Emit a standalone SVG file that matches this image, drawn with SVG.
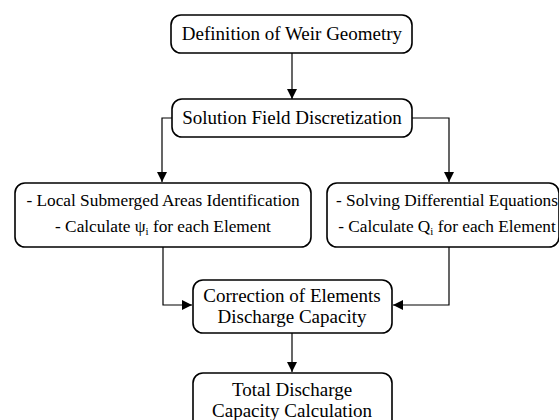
<svg xmlns="http://www.w3.org/2000/svg" width="559" height="420" viewBox="0 0 559 420">
<defs>
<marker id="ah" viewBox="0 0 10 10" refX="10" refY="5" markerWidth="10" markerHeight="10" markerUnits="userSpaceOnUse" orient="auto">
<path d="M0,0 L10,5 L0,10 Z" fill="#000"/>
</marker>
<style>
.box{fill:#fff;stroke:#000;stroke-width:1.6}
.c{fill:none;stroke:#000;stroke-width:1.2;marker-end:url(#ah)}
text{font-family:'Liberation Serif','Times New Roman',serif;font-size:19px;text-anchor:middle;fill:#000}
text.s{font-size:17.3px}
</style>
</defs>
<rect width="559" height="420" fill="#fff"/>
<g id="connectors">
<path class="c" d="M292,53 V99"/>
<path class="c" d="M172,118 H162 V182"/>
<path class="c" d="M412,118 H449 V182"/>
<path class="c" d="M163,247 V305 H192"/>
<path class="c" d="M449,247 V305 H393"/>
<path class="c" d="M292,333 V372"/>
</g>
<g id="n1">
<rect class="box" x="171" y="15" width="241" height="38" rx="10"/>
<text x="292" y="40">Definition of Weir Geometry</text>
</g>
<g id="n2">
<rect class="box" x="172" y="99" width="240" height="38" rx="10"/>
<text x="292" y="124">Solution Field Discretization</text>
</g>
<g id="n3">
<rect class="box" x="15" y="183" width="296" height="64" rx="10"/>
<text class="s" x="163" y="206">- Local Submerged Areas Identification</text>
<text class="s" x="163" y="232">- Calculate ψ<tspan font-size="11" dy="3">i</tspan><tspan dy="-3"> for each Element</tspan></text>
</g>
<g id="n4">
<rect class="box" x="327" y="183" width="232" height="64" rx="10"/>
<text class="s" x="447" y="206">- Solving Differential Equations</text>
<text class="s" x="447" y="232">- Calculate Q<tspan font-size="11" dy="3">i</tspan><tspan dy="-3"> for each Element</tspan></text>
</g>
<g id="n5">
<rect class="box" x="193" y="280" width="199" height="53" rx="10"/>
<text x="292" y="302">Correction of Elements</text>
<text x="292" y="323">Discharge Capacity</text>
</g>
<g id="n6">
<rect class="box" x="193" y="373" width="199" height="60" rx="10"/>
<text x="292" y="396">Total Discharge</text>
<text x="292" y="417">Capacity Calculation</text>
</g>
</svg>
